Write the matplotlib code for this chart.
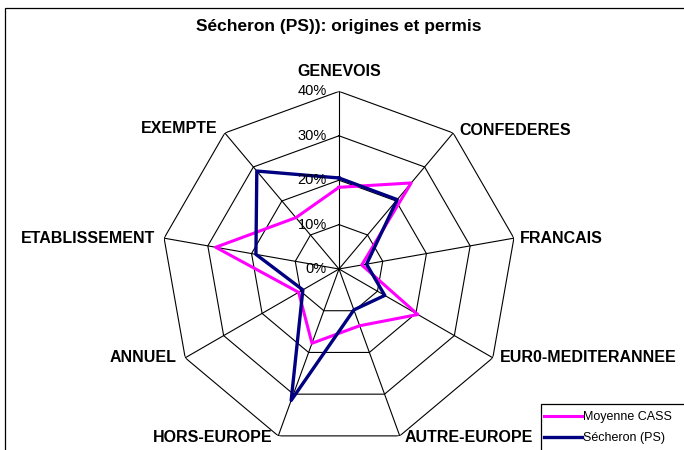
import numpy as np
import matplotlib
matplotlib.use("Agg")
import matplotlib.pyplot as plt
from matplotlib.patches import Rectangle
from matplotlib.lines import Line2D

plt.rcParams["font.family"] = ["Liberation Sans", "DejaVu Sans"]

title = "Sécheron (PS)): origines et permis"
categories = ["GENEVOIS", "CONFEDERES", "FRANCAIS", "EUR0-MEDITERANNEE", "AUTRE-EUROPE",
              "HORS-EUROPE", "ANNUEL", "ETABLISSEMENT", "EXEMPTE"]
moyenne_cass = [0.184, 0.253, 0.052, 0.205, 0.136, 0.178, 0.105, 0.282, 0.151]
secheron = [0.205, 0.204, 0.063, 0.119, 0.098, 0.315, 0.094, 0.190, 0.288]
series_names = ["Moyenne CASS", "Sécheron (PS)"]
r_ticks = [0.0, 0.1, 0.2, 0.3, 0.4]
r_tick_labels = ["0%", "10%", "20%", "30%", "40%"]

W, H = 684, 450
fig = plt.figure(figsize=(W / 100, H / 100), dpi=100)

# outer chart frame (cut by the image edge on right/bottom)
fig.patches.append(Rectangle((5 / W, -0.2), 1.3, 1.2 - 8 / H, transform=fig.transFigure,
                             fill=False, edgecolor="black", linewidth=0.9))

cx, cy, R = 339, 269, 177.6
ax = fig.add_axes([(cx - R) / W, (H - cy - R) / H, 2 * R / W, 2 * R / H], polar=True)
ax.set_theta_offset(np.pi / 2)
ax.set_theta_direction(-1)
ax.set_ylim(0, 0.4)
ax.grid(False)
ax.set_xticks([])
ax.set_yticks([])
ax.spines["polar"].set_visible(False)
ax.patch.set_visible(False)

n = len(categories)
theta = np.arange(n) * 2 * np.pi / n
theta_closed = np.append(theta, theta[0])

# polygon grid rings and spokes
for level in r_ticks[1:]:
    ax.plot(theta_closed, [level] * (n + 1), color="black", lw=0.8, zorder=1)
for t in theta:
    ax.plot([t, t], [0, r_ticks[-1]], color="black", lw=0.8, zorder=1)

ax.plot(theta_closed, moyenne_cass + moyenne_cass[:1], color="#FF00FF", lw=2.2, zorder=3)
ax.plot(theta_closed, secheron + secheron[:1], color="#000080", lw=2.4, zorder=4)

# radial tick labels along first axis
for r, lab in zip(r_ticks, r_tick_labels):
    ax.annotate(lab, xy=(0, r), xytext=(-12, 0), textcoords="offset pixels",
                ha="right", va="center", fontsize=10.5, annotation_clip=False, zorder=5)

# category labels
label_offsets = [(0, 12, "center", "bottom"), (6, 2, "left", "center"), (6, 0, "left", "center"),
                 (7, 0, "left", "center"), (5, -2, "left", "center"), (-6, -2, "right", "center"),
                 (-9, 0, "right", "center"), (-9, 0, "right", "center"), (-7, 4, "right", "center")]
for t, lab, (dx, dy, ha, va) in zip(theta, categories, label_offsets):
    ax.annotate(lab, xy=(t, r_ticks[-1]), xytext=(dx, dy), textcoords="offset pixels",
                ha=ha, va=va, fontsize=11.5, fontweight="bold", annotation_clip=False)

fig.text(cx / W, 1 - 27 / H, title, ha="center", va="center", fontsize=12.5, fontweight="bold")

# legend box (extends past the image edge)
fig.patches.append(Rectangle((541 / W, -0.2), 0.5, 0.2 + (H - 404) / H, transform=fig.transFigure,
                             fill=False, edgecolor="black", linewidth=0.9))
handles = [Line2D([], [], color="#FF00FF", lw=2.2), Line2D([], [], color="#000080", lw=2.4)]
fig.legend(handles, series_names, loc="upper left", bbox_to_anchor=(544 / W, 1 - 411 / H),
           frameon=False, fontsize=9, handlelength=3.0, handletextpad=0.15,
           labelspacing=0.75, borderaxespad=0, borderpad=0)

fig.savefig("out.png", dpi=100)
